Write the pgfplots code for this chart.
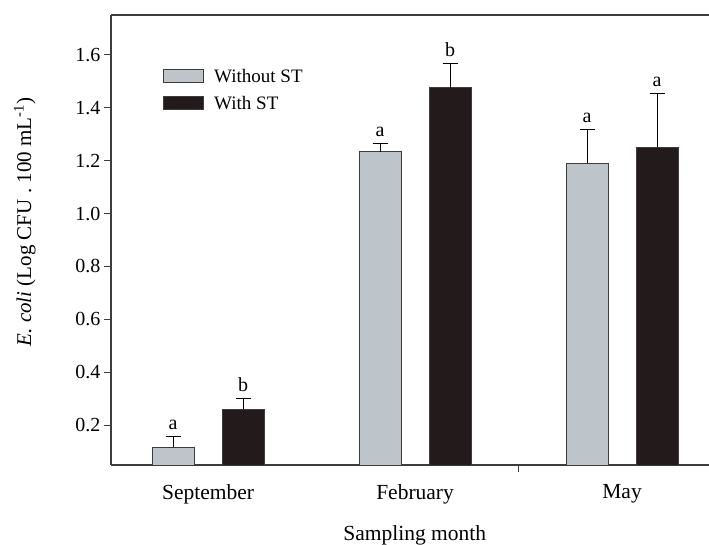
\documentclass[border=0pt]{standalone}
\usepackage{fontspec}
\setmainfont{Liberation Serif}
\usepackage{pgfplots}
\pgfplotsset{compat=1.18}
\definecolor{barGrey}{HTML}{BDC4CA}
\definecolor{barDark}{HTML}{231A1B}
\definecolor{edge}{HTML}{3C3C3C}
\newcommand{\tfont}{\fontsize{20bp}{24bp}\selectfont}
\newcommand{\xfont}{\fontsize{21.5bp}{25bp}\selectfont}
\begin{document}
\begin{tikzpicture}
\begin{axis}[
  scale only axis, width=598bp, height=450bp,
  xmin=-0.469, xmax=2.42, ymin=0.05, ymax=1.75,
  axis x line=box, axis y line=left,
  axis line style={-, draw=edge, line width=1.2bp},
  ytick={0.2,0.4,0.6,0.8,1.0,1.2,1.4,1.6},
  yticklabel style={/pgf/number format/.cd, fixed, fixed zerofill, precision=1},
  /pgf/number format/assume math mode=true,
  ytick pos=left, xtick pos=bottom,
  tick align=outside, major tick length=7bp,
  tick style={draw=edge, line width=1.2bp},
  xtick={1.5}, xticklabels={},
  extra x ticks={0,1,2},
  extra x tick labels={September,February,May},
  extra x tick style={major tick length=0pt, xticklabel style={yshift=-16bp, font=\xfont}},
  tick label style={font=\tfont, text=black},
  xlabel={Sampling month},
  ylabel={\textit{E. coli} (Log CFU . 100 mL\textsuperscript{-1})},
  every axis x label/.style={at={(axis description cs:0.508,-0.156)}, anchor=center, font=\xfont},
  every axis y label/.style={at={(axis description cs:-0.144,0.54)}, anchor=center, rotate=90, font=\fontsize{21bp}{25bp}\selectfont},
  legend style={at={(axis description cs:0.087,0.883)}, anchor=north west,
    draw=none, fill=none, inner sep=0pt, row sep=11bp,
    font=\fontsize{19bp}{22bp}\selectfont,
    nodes={inner sep=1bp}},
  legend cell align=left,
]
\addplot[ybar, bar width=42bp, bar shift=0pt, fill=barGrey, draw=edge, line width=1bp,
  legend image code/.code={\draw[fill=barGrey, draw=edge, line width=1bp] (0bp,-6bp) rectangle (40bp,7bp); \path (49bp,0bp);},
  error bars/.cd, y dir=plus, y explicit,
  error bar style={black, line width=0.9bp},
  error mark options={rotate=90, mark size=7.5bp, black, line width=0.9bp}]
  table[x=x, y=y, y error=e] {
x y e
-0.169 0.117 0.041
0.831 1.234 0.030
1.831 1.190 0.127
};
\addlegendentry{Without ST}
\addplot[ybar, bar width=42bp, bar shift=0pt, fill=barDark, draw=edge, line width=1bp,
  legend image code/.code={\draw[fill=barDark, draw=edge, line width=1bp] (0bp,-6bp) rectangle (40bp,7bp); \path (49bp,0bp);},
  error bars/.cd, y dir=plus, y explicit,
  error bar style={black, line width=0.9bp},
  error mark options={rotate=90, mark size=7.5bp, black, line width=0.9bp}]
  table[x=x, y=y, y error=e] {
x y e
0.169 0.260 0.042
1.169 1.475 0.091
2.169 1.250 0.203
};
\addlegendentry{With ST}
\addplot[forget plot, draw=none, mark=none, nodes near coords, point meta=explicit symbolic,
  nodes near coords style={anchor=south, yshift=3bp, font=\tfont, text=black}]
  coordinates {(-0.169,0.158)[a] (0.831,1.264)[a] (1.831,1.317)[a]
               (0.169,0.302)[b] (1.169,1.566)[b] (2.169,1.453)[a]};
\end{axis}
\pgfresetboundingbox
\path ([xshift=-111bp,yshift=15bp]current axis.north west) rectangle ([yshift=-80bp]current axis.south east);
\end{tikzpicture}
\end{document}
